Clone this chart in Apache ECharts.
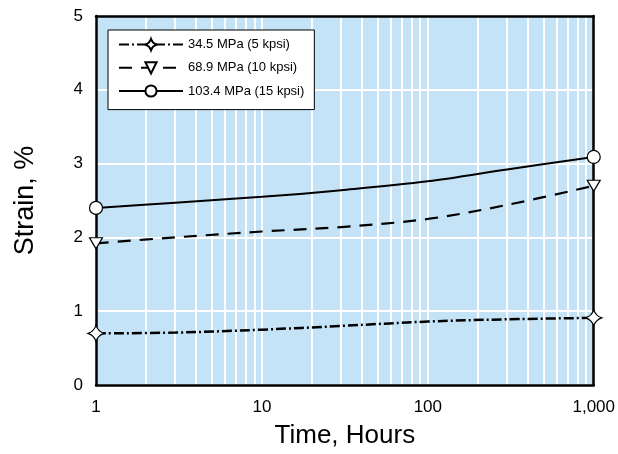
<!DOCTYPE html>
<html>
<head>
<meta charset="utf-8">
<script src="https://cdn.jsdelivr.net/npm/echarts@6/dist/echarts.min.js"></script>
<style>html,body{margin:0;padding:0;background:#fff}#c{width:618px;height:454px}</style>
</head>
<body>
<div id="c"></div>
<script>
const seriesNames = ['34.5 MPa (5 kpsi)', '68.9 MPa (10 kpsi)', '103.4 MPa (15 kpsi)'];
const hours5 = [1, 3, 10, 30, 100, 300, 1000];
const strain5 = [0.70, 0.71, 0.75, 0.80, 0.86, 0.89, 0.91];
const hours10 = [1, 3, 10, 30, 100, 300, 1000];
const strain10 = [1.92, 2.00, 2.08, 2.14, 2.25, 2.44, 2.70];
const hours15 = [1, 3, 10, 30, 100, 300, 1000];
const strain15 = [2.40, 2.47, 2.55, 2.64, 2.76, 2.92, 3.09];
const minorGridX = [2,3,4,5,6,7,8,9,20,30,40,50,60,70,80,90,200,300,400,500,600,700,800,900];
const xTicks = [1, 10, 100, 1000];
const yTicks = [0, 1, 2, 3, 4, 5];

const starPath = 'path://M0,-10 Q2.5,-2.5 10,0 Q2.5,2.5 0,10 Q-2.5,2.5 -10,0 Q-2.5,-2.5 0,-10Z';
const triPath = 'path://M-10,-8 L10,-8 L0,9Z';

function build(xs, ys) {
  return xs.map((x, i) => {
    const end = (i === 0 || i === xs.length - 1);
    return end ? [x, ys[i]] : { value: [x, ys[i]], symbol: 'none' };
  });
}

const font = 'Liberation Sans, Arial, sans-serif';
const chart = echarts.init(document.getElementById('c'));
chart.setOption({
  animation: false,
  textStyle: { fontFamily: font },
  grid: { left: 96, right: 22, top: 16, bottom: 69, show: true, backgroundColor: '#c5e3f6', borderColor: '#000', borderWidth: 0 },
  legend: {
    orient: 'vertical', left: 108, top: 30, z: 30,
    backgroundColor: '#fff', borderColor: '#000', borderWidth: 1,
    padding: [8, 10, 12, 10], itemGap: 10, itemWidth: 64, itemHeight: 14,
    textStyle: { fontSize: 13, color: '#000', fontFamily: font },
    data: seriesNames
  },
  xAxis: [{
    type: 'log', logBase: 10, min: xTicks[0], max: xTicks[xTicks.length - 1],
    axisLine: { show: true, onZero: false, lineStyle: { color: '#000', width: 2.5 } },
    axisTick: { show: false },
    axisLabel: { fontSize: 17, color: '#000', margin: 14, formatter: v => Number(v).toLocaleString('en-US') },
    splitLine: { show: true, lineStyle: { color: '#fff', width: 2 } },
    minorTick: { show: false },
    name: 'Time, Hours', nameLocation: 'middle', nameGap: 38,
    nameTextStyle: { fontSize: 26, color: '#000' }, z: 5
  }, {
    type: 'log', logBase: 10, min: xTicks[0], max: xTicks[xTicks.length - 1], position: 'top',
    axisLine: { show: true, onZero: false, lineStyle: { color: '#000', width: 2.5 } },
    axisTick: { show: false }, axisLabel: { show: false }, splitLine: { show: false }, z: 5
  }],
  yAxis: [{
    type: 'value', min: yTicks[0], max: yTicks[yTicks.length - 1], interval: 1,
    axisLine: { show: true, onZero: false, lineStyle: { color: '#000', width: 2.5 } },
    axisTick: { show: false },
    axisLabel: { fontSize: 17, color: '#000', margin: 13 },
    splitLine: { show: true, lineStyle: { color: '#fff', width: 2 } },
    name: 'Strain, %', nameLocation: 'middle', nameGap: 57,
    nameTextStyle: { fontSize: 27, color: '#000' }, z: 5
  }, {
    type: 'value', min: yTicks[0], max: yTicks[yTicks.length - 1], interval: 1, position: 'right',
    axisLine: { show: true, onZero: false, lineStyle: { color: '#000', width: 2.5 } },
    axisTick: { show: false }, axisLabel: { show: false }, splitLine: { show: false }, z: 5
  }],
  series: [
    {
      name: seriesNames[0], type: 'line', smooth: 0.35,
      symbol: starPath, symbolSize: 16,
      itemStyle: { color: '#fff', borderColor: '#000', borderWidth: 1.2 },
      lineStyle: { color: '#000', width: 2.5, type: [10, 3, 2, 3] },
      data: build(hours5, strain5), z: 6,
      markLine: {
        silent: true, symbol: 'none', label: { show: false },
        lineStyle: { color: '#fff', width: 2, type: 'solid' },
        data: minorGridX.map(x => ({ xAxis: x })), z: 1
      }
    },
    {
      name: seriesNames[1], type: 'line', smooth: 0.35,
      symbol: triPath, symbolSize: [13, 11],
      itemStyle: { color: '#fff', borderColor: '#000', borderWidth: 1.2 },
      lineStyle: { color: '#000', width: 2.2, type: [13, 9] },
      data: build(hours10, strain10), z: 6
    },
    {
      name: seriesNames[2], type: 'line', smooth: 0.35,
      symbol: 'circle', symbolSize: 13,
      itemStyle: { color: '#fff', borderColor: '#000', borderWidth: 1.2 },
      lineStyle: { color: '#000', width: 2 },
      data: build(hours15, strain15), z: 6
    }
  ]
});
</script>
</body>
</html>
